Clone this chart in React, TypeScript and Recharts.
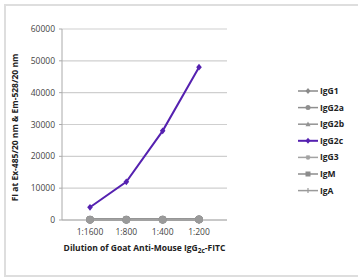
import { CartesianGrid, Label, Legend, Line, LineChart, XAxis, YAxis } from 'recharts'

const dilutions = ['1:1600', '1:800', '1:400', '1:200']
const igG1 = [100, 80, 100, 150]
const igG2a = [150, 120, 150, 200]
const igG2b = [60, 60, 80, 120]
const igG2c = [4000, 12000, 28000, 48000]
const igG3 = [100, 100, 120, 160]
const igM = [180, 150, 180, 220]
const igA = [80, 80, 100, 120]
const yTicks = [0, 10000, 20000, 30000, 40000, 50000, 60000]

type Shape = 'diamond' | 'circle' | 'triangle' | 'star' | 'square' | 'plus'

const SERIES: { key: string; name: string; color: string; shape: Shape; values: number[] }[] = [
  { key: 'IgG1', name: 'IgG1', color: '#8a8a8a', shape: 'diamond', values: igG1 },
  { key: 'IgG2a', name: 'IgG2a', color: '#8f8f8f', shape: 'circle', values: igG2a },
  { key: 'IgG2b', name: 'IgG2b', color: '#939393', shape: 'triangle', values: igG2b },
  { key: 'IgG2c', name: 'IgG2c', color: '#5521b0', shape: 'diamond', values: igG2c },
  { key: 'IgG3', name: 'IgG3', color: '#a3a3a3', shape: 'star', values: igG3 },
  { key: 'IgM', name: 'IgM', color: '#8c8c8c', shape: 'square', values: igM },
  { key: 'IgA', name: 'IgA', color: '#9a9a9a', shape: 'plus', values: igA },
]

const data = dilutions.map((d, i) => {
  const row: Record<string, string | number> = { dilution: d }
  for (const s of SERIES) row[s.key] = s.values[i]
  return row
})

const FONT = '"Open Sans", "Liberation Sans", sans-serif'

function Marker({ x, y, shape, color, r }: { x: number; y: number; shape: Shape; color: string; r: number }) {
  if (shape === 'circle') return <circle cx={x} cy={y} r={r} fill={color} />
  if (shape === 'square') return <rect x={x - r} y={y - r} width={r * 2} height={r * 2} fill={color} />
  if (shape === 'triangle')
    return <path d={`M${x},${y - r * 1.1} L${x + r},${y + r * 0.8} L${x - r},${y + r * 0.8} Z`} fill={color} />
  if (shape === 'star')
    return (
      <path
        d={`M${x - r},${y} L${x + r},${y} M${x},${y - r} L${x},${y + r} M${x - r * 0.7},${y - r * 0.7} L${x + r * 0.7},${y + r * 0.7} M${x - r * 0.7},${y + r * 0.7} L${x + r * 0.7},${y - r * 0.7}`}
        stroke={color}
        strokeWidth={1.2}
      />
    )
  if (shape === 'plus')
    return <path d={`M${x},${y - r} L${x},${y + r}`} stroke={color} strokeWidth={1.2} />
  return <path d={`M${x},${y - r * 1.2} L${x + r},${y} L${x},${y + r * 1.2} L${x - r},${y} Z`} fill={color} />
}

function renderLegend() {
  return (
    <svg width={60} height={120}>
      {SERIES.map((s, i) => {
        const cy = 6 + i * 16.6
        return (
          <g key={s.key}>
            <line x1={1} x2={21} y1={cy} y2={cy} stroke={s.color} strokeWidth={s.key === 'IgG2c' ? 2 : 1.5} />
            <Marker x={11} y={cy} shape={s.shape} color={s.color} r={2.5} />
            <text x={23} y={cy + 3} fontSize={8.5} fontWeight={700} fill="#222" fontFamily={FONT}>
              {s.name}
            </text>
          </g>
        )
      })}
    </svg>
  )
}

export default function App() {
  return (
    <div style={{ position: 'absolute', left: 0, top: 0, width: 358, height: 280, background: '#fff' }}>
      <div
        style={{
          position: 'absolute',
          left: 4,
          top: 4,
          width: 356,
          height: 273,
          border: '2px solid #dedede',
          borderRight: 'none',
          boxSizing: 'border-box',
        }}
      />
      <LineChart
        width={358}
        height={280}
        data={data}
        margin={{ top: 29, right: 71, bottom: 30, left: 0 }}
        style={{ fontFamily: FONT }}
      >
        <CartesianGrid vertical={false} stroke="#cfcfcf" strokeWidth={1.2} />
        <XAxis
          dataKey="dilution"
          height={30}
          stroke="#aaa"
          tickSize={4}
          tick={{ fontSize: 8.5, fill: '#444' }}
          tickMargin={5}
          padding={{ left: 28, right: 28 }}
        >
          <Label
            content={({ viewBox }: any) => (
              <text
                x={viewBox.x + viewBox.width / 2}
                y={viewBox.y + 31}
                textAnchor="middle"
                fontSize={8.5}
                fontWeight={700}
                fill="#222"
                fontFamily={FONT}
              >
                Dilution of Goat Anti-Mouse IgG
                <tspan fontSize={6.5} dy={1.5}>2c</tspan>
                <tspan dy={-1.5}>-FITC</tspan>
              </text>
            )}
          />
        </XAxis>
        <YAxis
          width={62}
          domain={[0, 60000]}
          ticks={yTicks}
          stroke="#aaa"
          tickSize={3}
          tickMargin={4}
          tick={{ fontSize: 8.5, fill: '#444' }}
        >
          <Label
            content={({ viewBox }: any) => (
              <text
                x={18}
                y={viewBox.y + viewBox.height / 2 + 3}
                transform={`rotate(-90, 18, ${viewBox.y + viewBox.height / 2 + 3})`}
                textAnchor="middle"
                fontSize={8.5}
                fontWeight={700}
                fill="#222"
                fontFamily={FONT}
              >
                FI at Ex-485/20 nm &amp; Em-528/20 nm
              </text>
            )}
          />
        </YAxis>
        <Legend
          layout="vertical"
          align="right"
          verticalAlign="top"
          content={renderLegend}
          wrapperStyle={{ top: 85, left: 297, width: 60 }}
        />
        {SERIES.map((s) => (
          <Line
            key={s.key}
            dataKey={s.key}
            name={s.name}
            stroke={s.color}
            strokeWidth={s.key === 'IgG2c' ? 2 : 2.5}
            isAnimationActive={false}
            dot={(p: any) => (
              <Marker
                key={`${s.key}-${p.index}`}
                x={p.cx}
                y={p.cy}
                shape={s.key === 'IgG2c' ? 'diamond' : 'circle'}
                color={s.color}
                r={s.key === 'IgG2c' ? 2.8 : 3.8}
              />
            )}
          />
        ))}
      </LineChart>
    </div>
  )
}
